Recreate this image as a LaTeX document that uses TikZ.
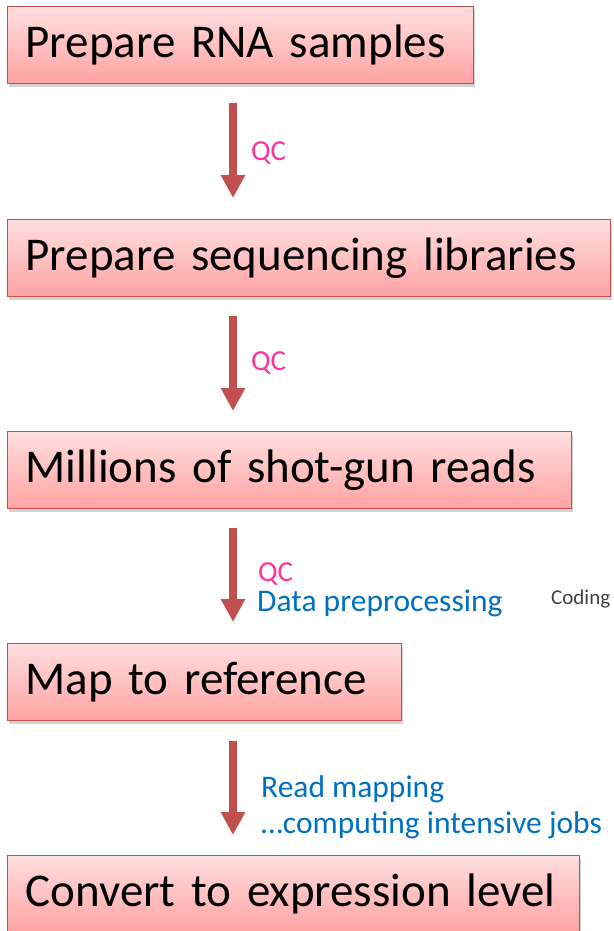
\documentclass[tikz,border=0pt]{standalone}
\usepackage{fontspec}
\setmainfont{Carlito}
\usetikzlibrary{arrows.meta,shadows}
\definecolor{boxborder}{HTML}{C0504D}
\definecolor{boxtop}{HTML}{FFDEDE}
\definecolor{boxbot}{HTML}{FFA3A3}
\definecolor{qcpink}{HTML}{FF3399}
\definecolor{stepblue}{HTML}{0070C0}
\definecolor{arrowred}{HTML}{C0504D}
\tikzset{
  stepbox/.style={draw=boxborder, line width=1.2pt, top color=boxtop, bottom color=boxbot,
    inner xsep=18pt, inner ysep=0pt, minimum height=77pt, anchor=north west, align=left,
    font=\fontsize{47}{50}\selectfont, text=black,
    drop shadow={opacity=0.35, shadow xshift=1.5pt, shadow yshift=-3pt}},
  flow/.style={line width=8pt, draw=arrowred, -{Triangle[width=23pt,length=23pt]}},
  qc/.style={anchor=base west, text=qcpink, font=\fontsize{29}{31}\selectfont, inner sep=0pt},
  note/.style={anchor=base west, text=stepblue, font=\fontsize{31.5}{33}\selectfont, inner sep=0pt},
}
\begin{document}
\begin{tikzpicture}[x=1pt,y=-1pt]
\useasboundingbox (0,0) rectangle (613,931);
\clip (0,0) rectangle (613,931);
\node[stepbox, text width=430pt] (b1) at (7,6) {Prepare RNA samples};
\node[stepbox, text width=567pt] (b2) at (7,219) {Prepare sequencing libraries};
\node[stepbox, text width=528pt] (b3) at (7,431) {Millions of shot-gun reads};
\node[stepbox, text width=358pt] (b4) at (7,643) {Map to reference};
\node[stepbox, text width=536pt] (b5) at (7,855) {Convert to expression level};
\coordinate (s1) at (233,103); \coordinate (e1) at (233,198);
\coordinate (s2) at (233,316); \coordinate (e2) at (233,411);
\coordinate (s3) at (233,528); \coordinate (e3) at (233,622);
\coordinate (s4) at (233,741); \coordinate (e4) at (233,835);
\draw[flow] (s1) -- (e1);
\draw[flow] (s2) -- (e2);
\draw[flow] (s3) -- (e3);
\draw[flow] (s4) -- (e4);
\node[qc] (q1) at (251,160) {QC};
\node[qc] (q2) at (251,370) {QC};
\node[qc] (q3) at (258,581) {QC};
\node[note] (n1) at (257,611) {Data preprocessing};
\node[note] (n2) at (261,797) {Read mapping};
\node[note] (n3) at (261,833) {\symbol{"2026}computing intensive jobs};
\node[anchor=base west, text=black!75, font=\fontsize{21}{23}\selectfont, inner sep=0pt] (cd) at (551,604) {Coding};
\end{tikzpicture}
\end{document}
